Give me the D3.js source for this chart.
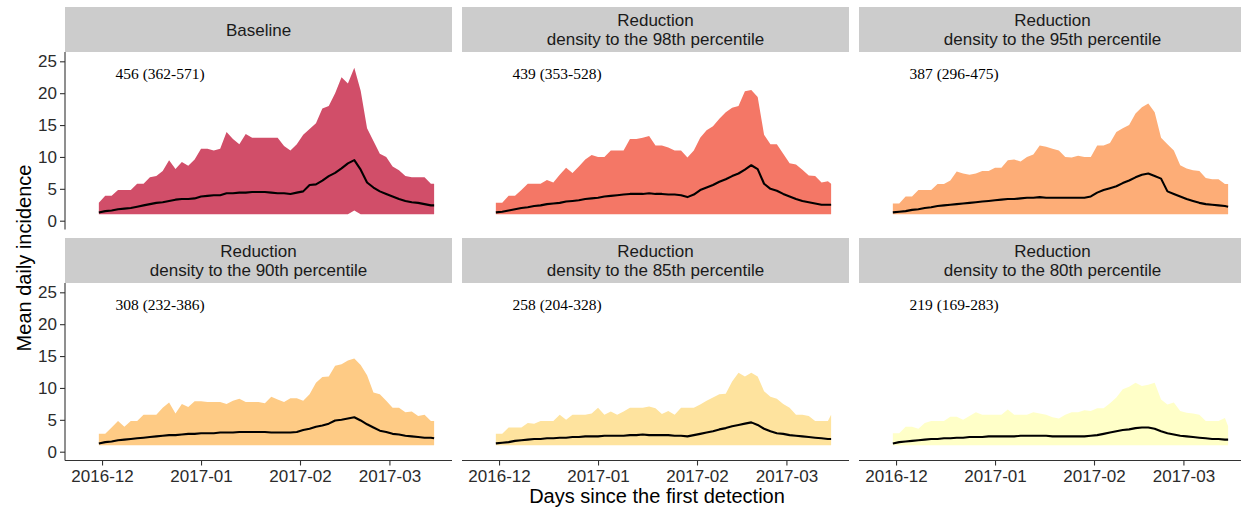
<!DOCTYPE html>
<html>
<head>
<meta charset="utf-8">
<script src="https://cdn.jsdelivr.net/npm/d3@7"></script>
<style>
  html, body { margin: 0; padding: 0; background: #fff; }
  svg { display: block; }
</style>
</head>
<body>
<svg id="chart" width="1241" height="512"></svg>
<script>
// ---------------- DATA ----------------
// days since 2016-11-30
const days = [0,2,4,6,8,10,12,14,16,18,20,22,24,26,28,30,32,34,36,38,40,42,44,46,48,50,52,54,56,58,60,62,64,66,68,70,72,74,76,78,80,82,84,86,88,90,92,94,96,98,100,102,104,105];

const panelTitles = [
  ["Baseline"],
  ["Reduction", "density to the 98th percentile"],
  ["Reduction", "density to the 95th percentile"],
  ["Reduction", "density to the 90th percentile"],
  ["Reduction", "density to the 85th percentile"],
  ["Reduction", "density to the 80th percentile"]
];
const annotations = ["456 (362-571)", "439 (353-528)", "387 (296-475)", "308 (232-386)", "258 (204-328)", "219 (169-283)"];
const fillColors = ["#D14E69", "#F47766", "#FDAD77", "#FECB85", "#FEE39E", "#FFFFC8"];

const upperBaseline = [2.8,3.9,3.9,4.8,4.8,4.8,5.8,5.8,6.8,7.0,7.8,9.5,8.1,9.2,8.6,9.6,11.3,11.3,11.0,11.3,13.9,12.8,12.0,13.6,13.0,13.0,13.0,13.0,13.0,11.7,11.0,12.0,13.5,14.4,15.3,17.6,18.0,20.0,22.5,21.5,24.0,20.4,14.5,12.5,10.5,10.0,8.5,7.9,7.0,6.8,6.8,6.8,5.8,5.8];
const meanBaseline  = [1.3,1.5,1.6,1.8,1.9,2.0,2.2,2.4,2.6,2.8,2.9,3.1,3.3,3.4,3.4,3.5,3.8,3.9,4.0,4.0,4.3,4.3,4.4,4.4,4.5,4.5,4.5,4.4,4.3,4.3,4.2,4.4,4.6,5.6,5.7,6.3,7.0,7.5,8.2,9.0,9.5,8.0,6.0,5.2,4.6,4.2,3.8,3.4,3.1,2.9,2.8,2.6,2.4,2.4];
const lowerBaseline = [1,1,1,1,1,1,1,1,1,1,1,1,1,1,1,1,1,1,1,1,1,1,1,1,1,1,1,1,1,1,1,1,1,1,1,1,1,1,1,1,1.6,1,1,1,1,1,1,1,1,1,1,1,1,1];

const upper98 = [2.8,2.8,3.9,3.9,4.8,5.8,5.8,5.8,6.4,6.0,7.2,8.3,7.5,8.5,9.6,10.3,10.0,10.0,11.0,11.0,11.0,12.8,12.8,13.0,13.3,11.8,11.8,11.5,11.0,11.0,9.9,11.0,13.0,14.2,14.8,16.0,17.0,17.7,18.0,20.3,20.5,19.4,13.5,12.0,12.0,10.5,9.0,8.8,8.0,7.1,7.0,6.0,6.2,5.8];
const mean98  = [1.3,1.4,1.6,1.8,2.0,2.1,2.3,2.4,2.6,2.7,2.8,3.0,3.1,3.2,3.4,3.5,3.6,3.8,3.9,4.0,4.1,4.2,4.2,4.2,4.3,4.2,4.2,4.1,4.1,4.0,3.7,4.1,4.8,5.2,5.6,6.1,6.5,7.0,7.4,8.0,8.7,8.1,5.8,5.0,4.7,4.2,3.8,3.4,3.1,2.9,2.7,2.5,2.5,2.5];

const upper95 = [2.7,2.7,3.8,3.8,4.8,4.8,4.8,5.75,5.75,6.3,7.7,7.4,7.2,7.4,7.8,7.8,8.3,8.3,9.5,9.6,9.3,10.0,10.4,11.8,11.6,11.3,11.0,10.0,9.9,10.2,10.0,10.0,11.8,11.8,12.2,13.9,14.5,15.0,16.8,17.8,18.4,17.0,13.0,12.0,11.0,8.7,8.2,7.9,7.8,6.7,6.5,6.5,5.75,5.75];
const mean95  = [1.3,1.4,1.5,1.7,1.8,2.0,2.1,2.3,2.4,2.5,2.6,2.7,2.8,2.9,3.0,3.1,3.2,3.3,3.4,3.4,3.5,3.6,3.6,3.7,3.6,3.6,3.6,3.6,3.6,3.6,3.6,3.8,4.4,4.8,5.1,5.4,5.9,6.3,6.8,7.2,7.4,7.0,6.6,4.6,4.2,3.8,3.4,3.1,2.8,2.6,2.5,2.4,2.3,2.2];

const upper90 = [2.8,2.8,3.8,4.8,3.9,4.8,4.8,5.8,5.8,5.8,6.9,7.7,6.0,7.5,7.0,7.9,7.9,7.8,7.8,7.8,7.5,8.0,8.3,7.8,7.8,7.8,7.6,8.6,8.2,7.8,8.4,8.4,8.0,9.0,10.8,11.7,11.8,13.5,13.7,14.3,14.6,13.6,12.0,9.3,9.0,8.0,6.9,6.9,6.2,6.3,5.6,5.8,4.8,4.8];
const mean90  = [1.3,1.5,1.6,1.8,1.9,2.0,2.1,2.2,2.3,2.4,2.5,2.6,2.6,2.7,2.8,2.8,2.9,2.9,2.9,3.0,3.0,3.0,3.1,3.1,3.1,3.1,3.1,3.0,3.0,3.0,3.0,3.1,3.4,3.6,3.9,4.1,4.4,4.9,5.0,5.2,5.4,4.9,4.3,3.8,3.3,3.1,2.8,2.7,2.5,2.4,2.3,2.2,2.2,2.1];

const upper85 = [2.8,2.8,3.8,3.8,3.8,4.5,4.4,4.8,4.8,4.8,5.8,5.0,5.8,5.8,5.8,6.0,6.9,5.8,6.3,5.8,6.3,6.9,6.9,6.9,7.1,6.8,5.9,6.4,5.8,6.9,6.9,6.9,7.4,8.0,8.5,9.0,9.1,11.0,12.4,11.8,12.4,11.8,9.5,8.6,8.3,7.5,6.9,5.8,5.8,5.6,4.8,4.8,4.8,5.8];
const mean85  = [1.3,1.4,1.5,1.7,1.8,1.9,2.0,2.0,2.1,2.1,2.2,2.2,2.3,2.3,2.4,2.4,2.4,2.5,2.5,2.5,2.5,2.6,2.6,2.7,2.6,2.6,2.6,2.6,2.5,2.5,2.4,2.6,2.8,3.0,3.2,3.5,3.7,4.0,4.2,4.4,4.6,4.2,3.6,3.2,2.9,2.8,2.6,2.5,2.4,2.3,2.2,2.1,2.0,2.0];

const upper80 = [2.9,2.9,3.9,3.9,3.6,4.5,4.8,4.8,4.8,5.5,5.5,5.0,5.6,6.2,5.8,5.8,5.8,5.8,6.6,5.8,5.8,5.8,6.2,6.0,5.8,5.4,5.2,5.8,6.2,6.2,6.5,6.4,6.8,6.8,7.6,8.5,9.8,10.2,10.8,10.3,10.5,10.8,8.2,7.4,7.7,6.4,6.1,6.0,5.8,4.8,4.8,4.8,5.3,4.0];
const mean80  = [1.3,1.5,1.6,1.7,1.8,1.9,2.0,2.0,2.1,2.1,2.2,2.2,2.3,2.3,2.3,2.4,2.4,2.4,2.4,2.4,2.5,2.5,2.5,2.5,2.5,2.4,2.4,2.4,2.4,2.4,2.4,2.5,2.6,2.8,3.0,3.2,3.4,3.5,3.7,3.8,3.8,3.6,3.2,2.9,2.7,2.5,2.4,2.3,2.2,2.1,2.0,2.0,1.9,1.9];

const lowerOther = [1,1,1,1,1,1,1,1,1,1,1,1,1,1,1,1,1,1,1,1,1,1,1,1,1,1,1,1,1,1,1,1,1,1,1,1,1,1,1,1,1,1,1,1,1,1,1,1,1,1,1,1,1,1];

const xTickDates = ["2016-12-01", "2017-01-01", "2017-02-01", "2017-03-01"];
const xTickLabels = ["2016-12", "2017-01", "2017-02", "2017-03"];
const yTicks = [0, 5, 10, 15, 20, 25];

const uppers = [upperBaseline, upper98, upper95, upper90, upper85, upper80];
const means  = [meanBaseline, mean98, mean95, mean90, mean85, mean80];
const lowers = [lowerBaseline, lowerOther, lowerOther, lowerOther, lowerOther, lowerOther];

// ---------------- LAYOUT ----------------
const svg = d3.select("#chart");
const colLeft = [65, 462, 859];
const panelW = 387;
const stripTop = [7, 238];
const stripH = 45;
const plotH = 177.5;
const sans = "'Liberation Sans', Arial, sans-serif";
const serif = "'Liberation Serif', 'Times New Roman', serif";

const startDate = Date.UTC(2016, 10, 30);
const DAY = 86400000;
const dayToDate = d => new Date(startDate + d * DAY);

const x = d3.scaleUtc()
  .domain([new Date(Date.UTC(2016, 11, 1) - 11.6 * DAY), new Date(Date.UTC(2017, 2, 1) + 19.6 * DAY)])
  .range([0, panelW]);
const y = d3.scaleLinear().domain([-1.38, 26.46]).range([plotH, 0]);

const panels = panelTitles.map((t, i) => ({
  title: t, note: annotations[i], fill: fillColors[i],
  row: Math.floor(i / 3), col: i % 3,
  pts: days.map((d, j) => ({ date: dayToDate(d), lo: lowers[i][j], hi: uppers[i][j], m: means[i][j] }))
}));

const area = d3.area().x(d => x(d.date)).y0(d => y(d.lo)).y1(d => y(d.hi));
const line = d3.line().x(d => x(d.date)).y(d => y(d.m));

panels.forEach(p => {
  const left = colLeft[p.col];
  const sTop = stripTop[p.row];
  const pTop = sTop + stripH;

  // strip
  const strip = svg.append("g").attr("transform", `translate(${left},${sTop})`);
  strip.append("rect").attr("width", panelW).attr("height", stripH).attr("fill", "#CCCCCC");
  const lines = p.title;
  const lh = 19.5;
  lines.forEach((s, k) => {
    strip.append("text")
      .attr("x", panelW / 2)
      .attr("y", stripH / 2 + (k - (lines.length - 1) / 2) * lh)
      .attr("dy", "0.36em")
      .attr("text-anchor", "middle")
      .attr("font-family", sans).attr("font-size", 17).attr("fill", "#1A1A1A")
      .text(s);
  });

  const g = svg.append("g").attr("transform", `translate(${left},${pTop})`);
  g.append("path").datum(p.pts).attr("d", area).attr("fill", p.fill);
  g.append("path").datum(p.pts).attr("d", line).attr("fill", "none")
    .attr("stroke", "#000").attr("stroke-width", 2.1).attr("stroke-linejoin", "round");

  g.append("text").attr("x", 50.5).attr("y", 27).attr("font-family", serif)
    .attr("font-size", 15.5).attr("fill", "#000").text(p.note);

  // y axis on first column
  if (p.col === 0) {
    const ya = g.append("g").call(d3.axisLeft(y).tickValues(yTicks).tickSize(5).tickPadding(3));
    ya.select(".domain").attr("d", `M0,0V${plotH}`).attr("stroke", "#333").attr("stroke-width", 1.1);
    ya.selectAll(".tick line").attr("stroke", "#333").attr("stroke-width", 1.1);
    ya.selectAll(".tick text").attr("font-family", sans).attr("font-size", 17).attr("fill", "#2b2b2b");
  }
  // x axis on second row
  if (p.row === 1) {
    const xa = g.append("g").attr("transform", `translate(0,${plotH})`)
      .call(d3.axisBottom(x).tickValues(xTickDates.map(s => new Date(s + "T00:00:00Z")))
        .tickFormat((d, k) => xTickLabels[k]).tickSize(5).tickPadding(4));
    xa.select(".domain").attr("d", `M0,0H${panelW}`).attr("stroke", "#333").attr("stroke-width", 1.1);
    xa.selectAll(".tick line").attr("stroke", "#333").attr("stroke-width", 1.1);
    xa.selectAll(".tick text").attr("font-family", sans).attr("font-size", 17).attr("fill", "#2b2b2b");
  }
});

// axis titles
svg.append("text").attr("x", 657).attr("y", 503).attr("text-anchor", "middle")
  .attr("font-family", sans).attr("font-size", 20).attr("fill", "#000")
  .text("Days since the first detection");
svg.append("text").attr("transform", "translate(31,258) rotate(-90)").attr("text-anchor", "middle")
  .attr("font-family", sans).attr("font-size", 20).attr("fill", "#000")
  .text("Mean daily incidence");
</script>
</body>
</html>
